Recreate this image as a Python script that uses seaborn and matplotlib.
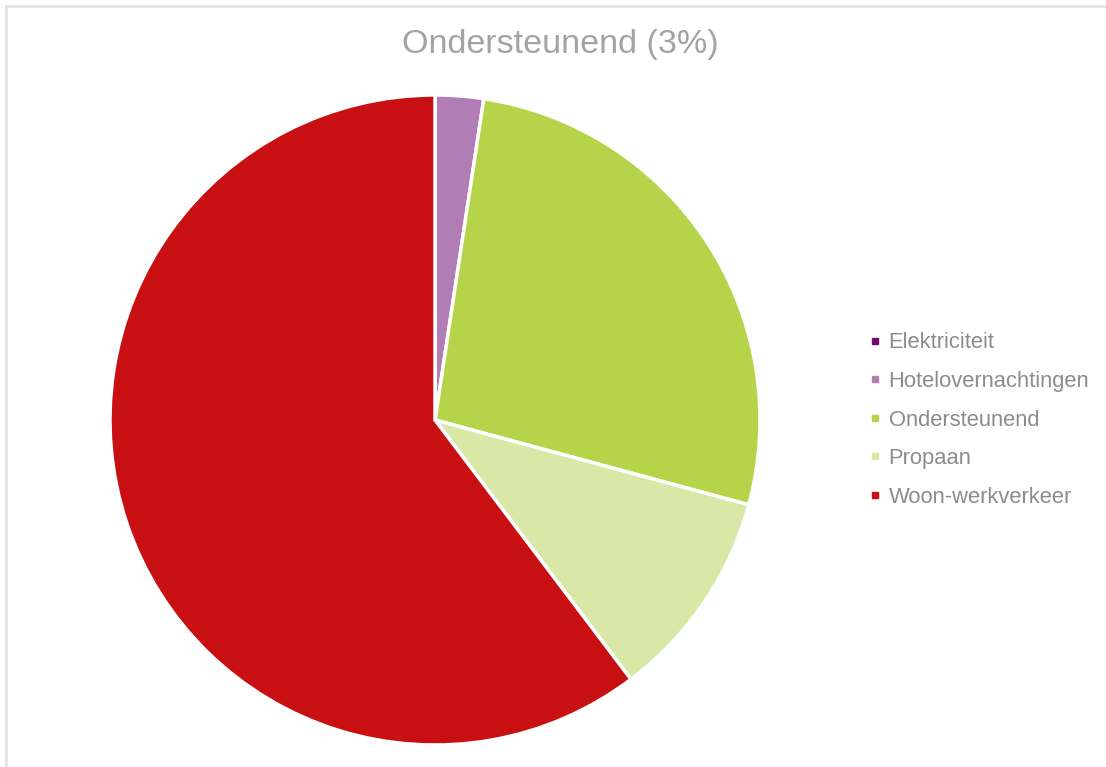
import matplotlib
matplotlib.use("Agg")
import matplotlib.pyplot as plt
from matplotlib.lines import Line2D
from matplotlib.patches import Rectangle
import seaborn as sns

categories = ["Elektriciteit", "Hotelovernachtingen", "Ondersteunend", "Propaan", "Woon-werkverkeer"]
values = [0.0, 2.4, 26.8, 10.5, 60.3]
colors = ["#6E0A6E", "#B07DB4", "#B5D44A", "#D9E8A6", "#C81012"]
title = "Ondersteunend (3%)"

sns.set_theme(style="white")
plt.rcParams['font.family'] = ['Liberation Sans', 'DejaVu Sans']

fig = plt.figure(figsize=(11.06, 7.67), dpi=100)
fig.patch.set_facecolor("white")

# light frame
fig.add_artist(Rectangle((6 / 1106, -0.1), 1.2, 1 - 6 / 767 + 0.1, transform=fig.transFigure,
                         fill=False, edgecolor="#E3E3E3", linewidth=2))

ax = fig.add_axes([110 / 1106, 22 / 767, 650 / 1106, 650 / 767])
wedges, _ = ax.pie(values, colors=colors, startangle=90, counterclock=False,
                   wedgeprops=dict(edgecolor="white", linewidth=2.5), radius=1.0)
ax.set_xlim(-1, 1)
ax.set_ylim(-1, 1)
ax.set_aspect("equal")
ax.axis("off")

fig.text(560 / 1106, 1 - 45 / 767, title, ha="center", va="center",
         fontsize=24.5, color="#A3A3A3")

handles = [Line2D([0], [0], marker="s", linestyle="none", markersize=5,
                  markerfacecolor=c, markeredgecolor=c) for c in colors]
leg = fig.legend(handles, categories, loc="center left",
                 bbox_to_anchor=(860 / 1106, 1 - 420 / 767), frameon=False,
                 fontsize=15.8, labelspacing=0.8, handlelength=0.6,
                 handletextpad=0.3, borderaxespad=0)
for t in leg.get_texts():
    t.set_color("#8C8C8C")

fig.savefig("out.png", dpi=100, facecolor="white")
